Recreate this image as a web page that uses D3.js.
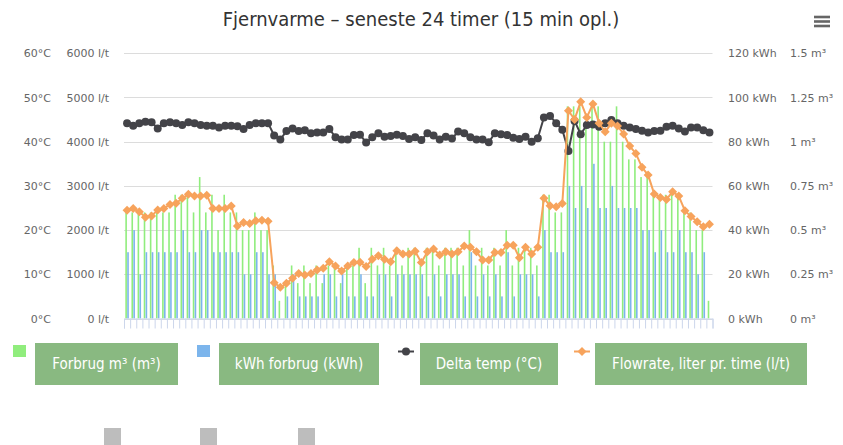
<!DOCTYPE html>
<html><head><meta charset="utf-8">
<script src="https://cdn.jsdelivr.net/npm/d3@7"></script>
<style>
body{margin:0;background:#fff;}
svg{display:block;font-family:"DejaVu Sans",sans-serif;}
.cond{font-family:"Liberation Sans Narrow","DejaVu Sans Condensed","Roboto",sans-serif;}
</style></head><body>
<svg id="chart" width="843" height="445"></svg>
<script>
// ---- data ----
const categories = d3.range(96).map(i => String(Math.floor(i/4)).padStart(2,"0") + ":" + String((i%4)*15).padStart(2,"0"));
const forbrugM3 = [0.6,0.6,0.6,0.6,0.6,0.6,0.6,0.6,0.7,0.7,0.7,0.6,0.8,0.6,0.7,0.5,0.7,0.6,0.6,0.5,0.5,0.6,0.5,0.5,
  0.3,0.1,0.2,0.3,0.2,0.3,0.2,0.3,0.2,0.3,0.3,0.2,0.3,0.3,0.4,0.2,0.4,0.3,0.4,0.3,0.4,0.3,0.4,
  0.4,0.3,0.4,0.4,0.3,0.4,0.4,0.4,0.3,0.5,0.3,0.4,0.3,0.4,0.3,0.5,0.3,0.4,0.4,0.4,0.3,0.7,0.7,0.6,0.6,
  1.2,1.2,1.2,1.1,1.2,1.2,1.0,1.0,1.2,1.0,0.9,0.9,0.8,0.8,0.7,0.7,0.7,0.7,0.7,0.6,0.6,0.5,0.5,0.1];
const kwhForbrug = [30,40,20,30,30,30,30,30,30,40,30,30,40,40,30,30,30,30,30,20,20,30,30,20,
  20,0,10,20,10,10,10,10,20,20,10,20,10,10,20,10,10,20,20,10,20,20,20,
  20,20,10,20,10,20,20,20,10,30,10,20,10,20,10,30,10,20,20,20,10,40,30,30,30,
  60,50,60,50,70,50,50,60,50,50,50,50,40,40,30,40,30,30,40,30,30,20,30,0];
const deltaTemp = [44.2,43.6,44.2,44.5,44.4,43.0,44.2,44.4,44.2,43.8,44.4,44.2,43.8,43.6,43.6,43.2,43.6,43.6,43.5,42.9,43.8,44.2,44.2,44.2,
  41.4,40.5,42.4,43.0,42.4,42.6,41.9,42.1,42.1,42.9,41.0,40.5,40.5,41.5,41.6,39.8,41.0,41.9,41.1,41.3,41.6,41.3,40.6,
  41.0,40.4,41.9,41.4,40.5,41.1,40.7,42.3,41.9,41.0,40.5,40.5,39.9,41.9,41.7,41.5,40.9,40.6,41.1,40.0,40.8,45.5,45.8,44.2,42.7,
  37.9,44.7,41.7,43.8,43.9,43.4,44.2,44.9,44.2,43.6,43.2,42.9,42.5,42.1,42.4,42.5,43.4,43.6,43.0,42.3,43.2,43.2,42.6,42.1];
const flowrate = [2450,2490,2415,2290,2320,2455,2490,2580,2605,2720,2810,2770,2770,2790,2490,2490,2490,2545,2090,2170,2150,2210,2225,2200,
  810,705,795,910,1020,985,1020,1100,1135,1285,1190,1075,1190,1265,1270,1175,1340,1420,1340,1285,1535,1460,1460,
  1520,1265,1510,1570,1435,1510,1460,1510,1640,1610,1510,1325,1325,1495,1495,1660,1660,1375,1610,1460,1610,2720,2550,2530,2600,
  4700,4505,4905,4550,4855,4415,4225,4415,4355,4175,3900,3735,3420,3245,2815,2735,2695,2870,2770,2440,2305,2190,2075,2130];
const tempTicks = [0,10,20,30,40,50,60];
const flowTicks = [0,1000,2000,3000,4000,5000,6000];
const kwhTicks = [0,20,40,60,80,100,120];
const m3Ticks = [0,0.25,0.5,0.75,1,1.25,1.5];
const legendItems = ["Forbrug m³ (m³)","kWh forbrug (kWh)","Delta temp (°C)","Flowrate, liter pr. time (l/t)"];
const titleText = "Fjernvarme – seneste 24 timer (15 min opl.)";

// ---- layout ----
const svg = d3.select("#chart");
const L = 124, R = 712.5, T = 53.3, B = 318.5;
const colors = {green:"#90ed7d", blue:"#7cb5ec", black:"#434348", orange:"#f7a35c"};

const x = d3.scaleBand().domain(categories).range([L, R]).padding(0);
const xi = d3.scaleLinear().domain([0, categories.length]).range([L, R]);
const yTemp = d3.scaleLinear().domain([0,60]).range([B,T]);
const yFlow = d3.scaleLinear().domain([0,6000]).range([B,T]);
const yKwh = d3.scaleLinear().domain([0,120]).range([B,T]);
const yM3 = d3.scaleLinear().domain([0,1.5]).range([B,T]);

// title
svg.append("text").attr("class","cond").attr("x",421).attr("y",26).attr("text-anchor","middle")
  .attr("font-size",20).attr("fill","#333").text(titleText);
// hamburger
[17,21.5,26].forEach(yy => svg.append("line").attr("x1",814).attr("x2",830).attr("y1",yy).attr("y2",yy)
  .attr("stroke","#666").attr("stroke-width",2.6));

// gridlines
svg.append("g").selectAll("line").data(tempTicks).join("line")
  .attr("x1",L).attr("x2",R).attr("y1",d=>Math.round(yTemp(d))+0.5).attr("y2",d=>Math.round(yTemp(d))+0.5)
  .attr("stroke","#dcdcdc").attr("stroke-width",1);

// axes labels
function styleAxis(g, anchor){
  g.select(".domain").remove();
  g.selectAll(".tick line").remove();
  g.selectAll("text").attr("fill","#666").attr("font-size",11).attr("text-anchor",anchor)
    .attr("font-family","DejaVu Sans, sans-serif");
}
svg.append("g").attr("transform","translate(51,0)")
  .call(d3.axisLeft(yTemp).tickValues(tempTicks).tickSize(0).tickPadding(0).tickFormat(d=>d+"°C"))
  .call(g=>styleAxis(g,"end"));
svg.append("g").attr("transform","translate(109,0)")
  .call(d3.axisLeft(yFlow).tickValues(flowTicks).tickSize(0).tickPadding(0).tickFormat(d=>d+" l/t"))
  .call(g=>styleAxis(g,"end"));
svg.append("g").attr("transform","translate(728,0)")
  .call(d3.axisRight(yKwh).tickValues(kwhTicks).tickSize(0).tickPadding(0).tickFormat(d=>d+" kWh"))
  .call(g=>styleAxis(g,"start"));
svg.append("g").attr("transform","translate(790,0)")
  .call(d3.axisRight(yM3).tickValues(m3Ticks).tickSize(0).tickPadding(0).tickFormat(d=>d+" m³"))
  .call(g=>styleAxis(g,"start"));

// bars
const bw = x.bandwidth();
const barW = 1.6;
svg.append("g").selectAll("rect").data(forbrugM3).join("rect")
  .attr("x",(d,i)=>x(categories[i]) + bw/2 - barW - 0.15).attr("width",barW)
  .attr("y",d=>yM3(d)).attr("height",d=>B - yM3(d)).attr("fill",colors.green);
svg.append("g").selectAll("rect").data(kwhForbrug).join("rect")
  .attr("x",(d,i)=>x(categories[i]) + bw/2 + 0.15).attr("width",barW)
  .attr("y",d=>yKwh(d)).attr("height",d=>B - yKwh(d)).attr("fill",colors.blue);

// x axis
svg.append("g").attr("transform",`translate(0,${B})`)
  .call(d3.axisBottom(xi).tickValues(d3.range(categories.length+1)).tickSize(10).tickFormat(""))
  .call(g=>{g.select(".domain").attr("stroke","#ccd6eb");g.selectAll(".tick line").attr("stroke","#ccd6eb");});

// lines
const cx = i => x(categories[i]) + bw/2;
const tempLine = d3.line().x((d,i)=>cx(i)).y(d=>yTemp(d));
svg.append("path").datum(deltaTemp).attr("d",tempLine).attr("fill","none").attr("stroke",colors.black).attr("stroke-width",2);
svg.append("g").selectAll("circle").data(deltaTemp).join("circle")
  .attr("cx",(d,i)=>cx(i)).attr("cy",d=>yTemp(d)).attr("r",4).attr("fill",colors.black);
const flowLine = d3.line().x((d,i)=>cx(i)).y(d=>yFlow(d));
svg.append("path").datum(flowrate).attr("d",flowLine).attr("fill","none").attr("stroke",colors.orange).attr("stroke-width",2);
const diamond = (px,py,r) => `M${px},${py-r}L${px+r},${py}L${px},${py+r}L${px-r},${py}Z`;
svg.append("g").selectAll("path").data(flowrate).join("path")
  .attr("d",(d,i)=>diamond(cx(i),yFlow(d),4.5)).attr("fill",colors.orange);

// legend
const boxes = [[35,178],[219,379],[420,558],[595,807]];
const lg = svg.append("g");
lg.append("rect").attr("x",13).attr("y",345).attr("width",13).attr("height",12).attr("fill",colors.green);
lg.append("rect").attr("x",197).attr("y",345).attr("width",13).attr("height",12).attr("fill",colors.blue);
lg.append("line").attr("x1",398).attr("x2",414).attr("y1",351.5).attr("y2",351.5).attr("stroke",colors.black).attr("stroke-width",2);
lg.append("circle").attr("cx",406).attr("cy",351.5).attr("r",4).attr("fill",colors.black);
lg.append("line").attr("x1",574).attr("x2",590).attr("y1",351.5).attr("y2",351.5).attr("stroke",colors.orange).attr("stroke-width",2);
lg.append("path").attr("d",diamond(582,351.5,4.5)).attr("fill",colors.orange);
legendItems.forEach((t,i)=>{
  const [a,b] = boxes[i];
  lg.append("rect").attr("x",a).attr("y",343).attr("width",b-a).attr("height",42).attr("fill","#89b981");
  lg.append("text").attr("class","cond").attr("x",(a+b)/2).attr("y",369).attr("text-anchor","middle")
    .attr("font-size",15).attr("fill","#fff").text(t);
});
// bottom gray squares
[104,200,298].forEach(xx => svg.append("rect").attr("x",xx).attr("y",428).attr("width",17).attr("height",17).attr("fill","#bdbdbd"));
</script>
</body></html>
